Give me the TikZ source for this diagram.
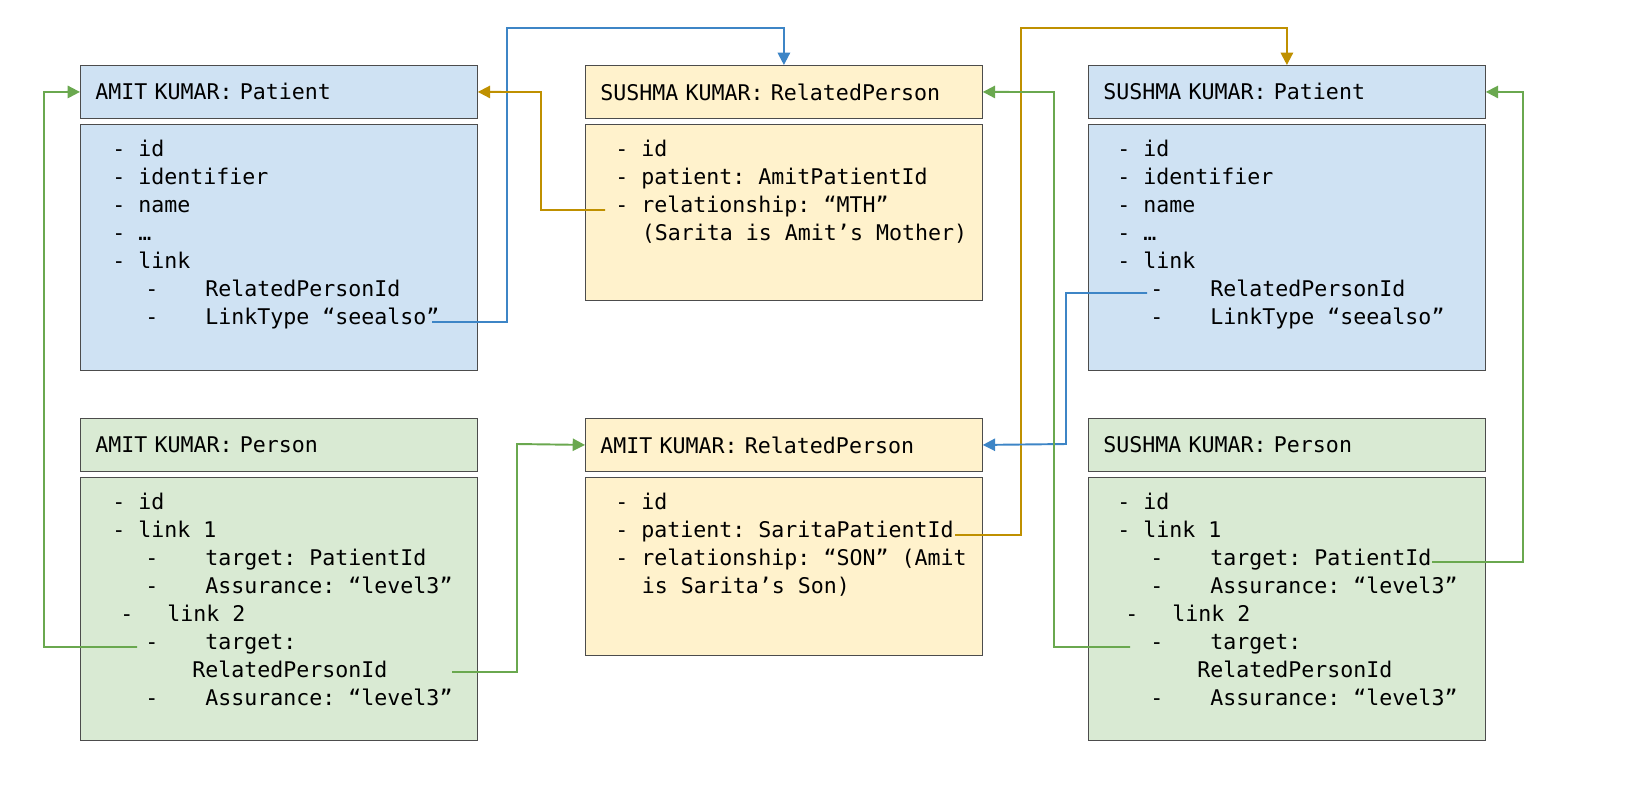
\documentclass[tikz,border=0pt]{standalone}
\usepackage{fontspec}
\setmonofont{DejaVu Sans Mono}[WordSpace={1,0,0}]
\usetikzlibrary{arrows.meta,positioning}
\definecolor{boxblue}{HTML}{CFE2F3}
\definecolor{boxyellow}{HTML}{FFF2CC}
\definecolor{boxgreen}{HTML}{D9EAD3}
\definecolor{lnblue}{HTML}{3D85C6}
\definecolor{lngold}{HTML}{BF9000}
\definecolor{lngreen}{HTML}{6AA84F}
\tikzset{
  head/.style={draw=black!70, line width=0.5pt, anchor=north west, minimum width=7.94cm, minimum height=1.06cm, text width=7.34cm, inner xsep=0.3cm, align=left, font=\fontsize{12.3}{15.9}\selectfont\ttfamily},
  body/.style={draw=black!70, line width=0.5pt, anchor=north west, minimum width=7.94cm, minimum height=#1, inner sep=0pt},
  lines/.style={anchor=north west, inner sep=0pt, align=left, font=\fontsize{12.3}{15.9}\selectfont\ttfamily},
  link/.style={line width=1.1pt, -{Triangle[length=7pt,width=7pt]}}
}
\newcommand\sub{\hspace*{0.66cm}-\hspace*{0.94cm}}
\begin{document}
\begin{tikzpicture}[x=0.02cm, y=-0.02cm]
\useasboundingbox (0,0) rectangle (1627,799);
% top row
\node[head, fill=boxblue] (ap-h) at (80,65) {AMIT KUMAR: Patient};
\node[body=4.92cm, fill=boxblue] (ap-b) at (80,124) {};
\node[lines] (ap-t) at (112,140) {- id\\- identifier\\- name\\- …\\- link\\\sub RelatedPersonId\\\sub LinkType “seealso”};

\node[head, fill=boxyellow] (sr-h) at (585,65) {SUSHMA KUMAR: RelatedPerson};
\node[body=3.52cm, fill=boxyellow] (sr-b) at (585,124) {};
\node[lines] (sr-t) at (615,140) {- id\\- patient: AmitPatientId\\- relationship: “MTH”\\\hspace*{0.53cm}(Sarita is Amit’s Mother)};

\node[head, fill=boxblue] (sp-h) at (1088,65) {SUSHMA KUMAR: Patient};
\node[body=4.92cm, fill=boxblue] (sp-b) at (1088,124) {};
\node[lines] (sp-t) at (1117,140) {- id\\- identifier\\- name\\- …\\- link\\\sub RelatedPersonId\\\sub LinkType “seealso”};

% bottom row
\node[head, fill=boxgreen] (apn-h) at (80,418) {AMIT KUMAR: Person};
\node[body=5.26cm, fill=boxgreen] (apn-b) at (80,477) {};
\node[lines] (apn-t) at (112,493) {- id\\- link 1\\\sub target: PatientId\\\sub Assurance: “level3”\\\hspace*{0.16cm}-\hspace*{0.68cm}link 2\\\sub target:\\\hspace*{1.6cm}RelatedPersonId\\\sub Assurance: “level3”};

\node[head, fill=boxyellow] (ar-h) at (585,418) {AMIT KUMAR: RelatedPerson};
\node[body=3.56cm, fill=boxyellow] (ar-b) at (585,477) {};
\node[lines] (ar-t) at (615,493) {- id\\- patient: SaritaPatientId\\- relationship: “SON” (Amit\\\hspace*{0.53cm}is Sarita’s Son)};

\node[head, fill=boxgreen] (spn-h) at (1088,418) {SUSHMA KUMAR: Person};
\node[body=5.26cm, fill=boxgreen] (spn-b) at (1088,477) {};
\node[lines] (spn-t) at (1117,493) {- id\\- link 1\\\sub target: PatientId\\\sub Assurance: “level3”\\\hspace*{0.16cm}-\hspace*{0.68cm}link 2\\\sub target:\\\hspace*{1.6cm}RelatedPersonId\\\sub Assurance: “level3”};

% link ends
\coordinate (ap-see) at (432,322);
\coordinate (sr-rel) at (605,210);
\coordinate (ar-pat) at (955,535);
\coordinate (sp-rel) at (1147,293);
\coordinate (apn-l2) at (137,647);
\coordinate (apn-tg) at (452,672);
\coordinate (spn-l1) at (1432,562);
\coordinate (spn-l2) at (1130,647);

\draw[link, lnblue] (ap-see) -| (507,28) -| (sr-h.north);
\draw[link, lngold] (sr-rel) -| (541,92) -- (ap-h.east);
\draw[link, lngold] (ar-pat) -| (1021,28) -| (sp-h.north);
\draw[link, lnblue] (sp-rel) -| (1066,444) -- (ar-h.east);
\draw[link, lngreen] (apn-l2) -| (44,92) -- (ap-h.west);
\draw[link, lngreen] (apn-tg) -| (517,444) -- (ar-h.west);
\draw[link, lngreen] (spn-l1) -| (1523,92) -- (sp-h.east);
\draw[link, lngreen] (spn-l2) -| (1054,92) -- (sr-h.east);
\end{tikzpicture}
\end{document}
